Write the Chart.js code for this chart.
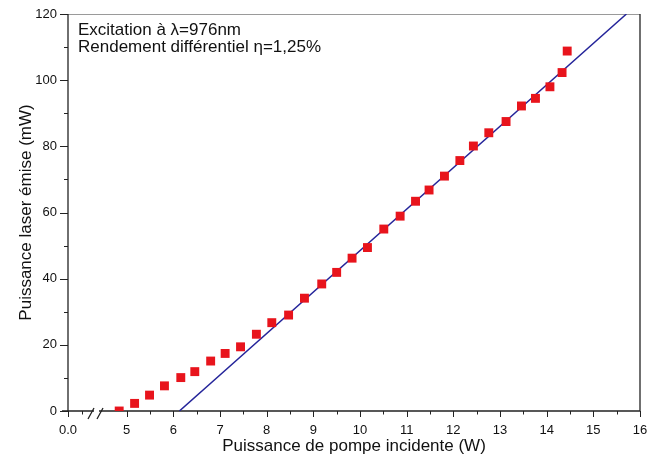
<!DOCTYPE html>
<html>
<head>
<meta charset="utf-8">
<script src="https://cdn.jsdelivr.net/npm/chart.js@4"></script>
<style>
    body { margin: 0; background: #fff; }
    canvas { display: block; }
</style>
</head>
<body>
<canvas id="laserChart" width="648" height="459"></canvas>
<script>
// measured points (pump power W, laser power mW)
const pumpPower = [4.84, 5.17, 5.49, 5.81, 6.16, 6.46, 6.80, 7.11, 7.44, 7.78, 8.11, 8.47, 8.81, 9.18, 9.50, 9.83,
    10.16, 10.51, 10.86, 11.19, 11.48, 11.81, 12.14, 12.43, 12.76, 13.13, 13.46, 13.76, 14.07, 14.33, 14.44];
const laserPower = [0, 2.3, 4.8, 7.6, 10.1, 11.9, 15.1, 17.4, 19.4, 23.2, 26.7, 29.0, 34.1, 38.4, 41.9, 46.2,
    49.4, 55.0, 58.9, 63.4, 66.8, 71.0, 75.7, 80.1, 84.1, 87.5, 92.2, 94.5, 98.0, 102.3, 108.8];

// linear fit
const fitX = [6.13, 15.71];
const fitY = [0, 120];

// broken x axis: 0.0 is shown at the axis start, then the break, then 5..16
const xStart = 3.743;
const xMajor = [5, 6, 7, 8, 9, 10, 11, 12, 13, 14, 15, 16];
const xTickLabels = ['0.0', '5', '6', '7', '8', '9', '10', '11', '12', '13', '14', '15', '16'];
const yTicks = [0, 20, 40, 60, 80, 100, 120];

const annotation = ['Excitation à λ=976nm', 'Rendement différentiel η=1,25%'];

const FONT = '"Liberation Sans", Arial, sans-serif';

function toPoints(xs, ys) {
    return xs.map(function(x, i) { return { x: x, y: ys[i] }; });
}

// frame, ticks, axis break and text box
const framePlugin = {
    id: 'frame',
    beforeDatasetsDraw: function(chart) {
        const ctx = chart.ctx;
        const a = chart.chartArea;
        const xs = chart.scales.x;
        const ys = chart.scales.y;
        ctx.save();
        ctx.lineCap = 'butt';

        // top border (grey) and right border
        ctx.strokeStyle = '#9a9a9a';
        ctx.lineWidth = 1;
        ctx.beginPath();
        ctx.moveTo(a.left, a.top + 0.5);
        ctx.lineTo(a.right, a.top + 0.5);
        ctx.stroke();

        ctx.strokeStyle = '#222';
        ctx.lineWidth = 1.3;
        ctx.beginPath();
        ctx.moveTo(a.right, a.top);
        ctx.lineTo(a.right, a.bottom);
        ctx.stroke();

        // left axis
        ctx.beginPath();
        ctx.moveTo(a.left, a.top);
        ctx.lineTo(a.left, a.bottom);
        ctx.stroke();

        // bottom axis with a gap for the break
        const gapL = a.left + 26, gapR = a.left + 31;
        ctx.beginPath();
        ctx.moveTo(a.left - 6, a.bottom);
        ctx.lineTo(gapL, a.bottom);
        ctx.moveTo(gapR, a.bottom);
        ctx.lineTo(a.right, a.bottom);
        ctx.stroke();

        // break slashes
        ctx.beginPath();
        ctx.moveTo(a.left + 20, a.bottom + 8);
        ctx.lineTo(a.left + 26, a.bottom - 3);
        ctx.moveTo(a.left + 29, a.bottom + 8);
        ctx.lineTo(a.left + 35, a.bottom - 3);
        ctx.stroke();

        // y ticks
        ctx.lineWidth = 1;
        ctx.beginPath();
        for (let v = 0; v <= 120; v += 10) {
            const py = Math.round(ys.getPixelForValue(v)) + 0.5;
            const len = v % 20 === 0 ? 8 : 4;
            ctx.moveTo(a.left - len, py);
            ctx.lineTo(a.left, py);
        }
        // x ticks
        xs.ticks.forEach(function(t) {
            const px = Math.round(xs.getPixelForValue(t.value)) + 0.5;
            ctx.moveTo(px, a.bottom);
            ctx.lineTo(px, a.bottom + 6);
        });
        const minor = [xStart + 0.3];
        for (let v = 5.5; v < 16; v += 1) minor.push(v);
        minor.forEach(function(v) {
            const px = Math.round(xs.getPixelForValue(v)) + 0.5;
            ctx.moveTo(px, a.bottom);
            ctx.lineTo(px, a.bottom + 3.5);
        });
        ctx.stroke();

        // text
        ctx.fillStyle = '#111';
        ctx.font = '17px ' + FONT;
        ctx.textBaseline = 'alphabetic';
        ctx.textAlign = 'left';
        ctx.fillText(annotation[0], a.left + 10, a.top + 21);
        ctx.fillText(annotation[1], a.left + 10, a.top + 38);
        ctx.restore();
    }
};

document.addEventListener('DOMContentLoaded', function() {
    var ctx = document.getElementById('laserChart').getContext('2d');
    var laserChart = new Chart(ctx, {
        type: 'scatter',
        data: {
            datasets: [{
                label: 'Fit',
                data: toPoints(fitX, fitY),
                showLine: true,
                borderColor: '#24249a',
                borderWidth: 1.5,
                pointRadius: 0,
                order: 2
            }, {
                label: 'Mesures',
                data: toPoints(pumpPower, laserPower),
                pointStyle: 'rect',
                pointRadius: 6.3,
                pointHoverRadius: 6.3,
                backgroundColor: '#e8141c',
                borderWidth: 0,
                order: 1
            }]
        },
        options: {
            responsive: false,
            animation: false,
            events: [],
            layout: { padding: { top: 14, right: 8, left: 0, bottom: 0 } },
            plugins: {
                legend: { display: false },
                tooltip: { enabled: false }
            },
            scales: {
                x: {
                    type: 'linear',
                    min: xStart,
                    max: 16,
                    grid: { display: false, drawTicks: false },
                    border: { display: false },
                    afterBuildTicks: function(scale) {
                        scale.ticks = [xStart].concat(xMajor).map(function(v) { return { value: v }; });
                    },
                    afterFit: function(scale) {
                        scale.height = 48;
                        scale.paddingLeft = 0;
                        scale.paddingRight = 0;
                    },
                    ticks: {
                        autoSkip: false,
                        maxRotation: 0,
                        padding: 12,
                        color: '#111',
                        font: { family: FONT, size: 13 },
                        callback: function(value, index) { return xTickLabels[index]; }
                    },
                    title: {
                        display: true,
                        text: 'Puissance de pompe incidente (W)',
                        color: '#111',
                        font: { family: FONT, size: 17 },
                        padding: { top: 0, bottom: 2 }
                    }
                },
                y: {
                    min: 0,
                    max: 120,
                    grid: { display: false, drawTicks: false },
                    border: { display: false },
                    afterBuildTicks: function(scale) {
                        scale.ticks = yTicks.map(function(v) { return { value: v }; });
                    },
                    afterFit: function(scale) {
                        scale.width = 68;
                        scale.paddingTop = 0;
                        scale.paddingBottom = 0;
                    },
                    ticks: {
                        padding: 11,
                        color: '#111',
                        font: { family: FONT, size: 13 }
                    },
                    title: {
                        display: true,
                        text: 'Puissance laser émise (mW)',
                        color: '#111',
                        font: { family: FONT, size: 17 },
                        padding: { top: 16, bottom: 0 }
                    }
                }
            }
        },
        plugins: [framePlugin]
    });
});
</script>
</body>
</html>
